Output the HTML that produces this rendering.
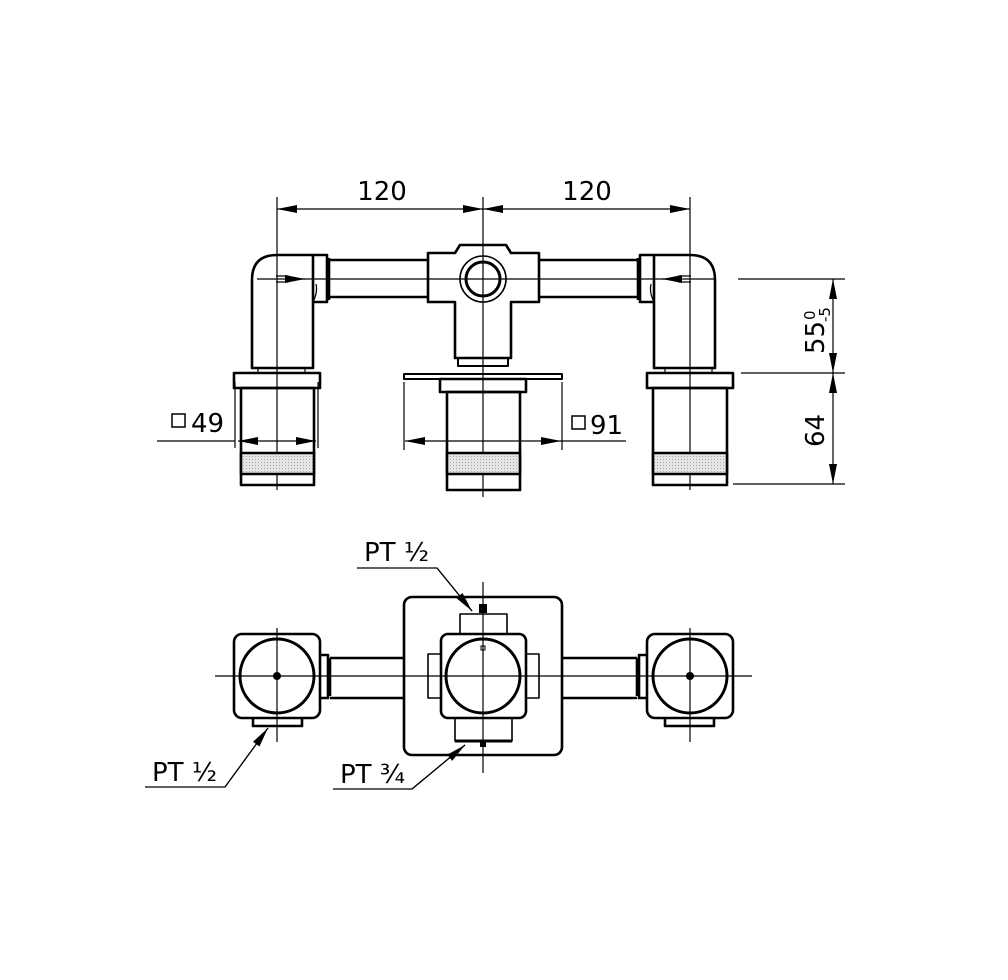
<!DOCTYPE html>
<html><head><style>body{margin:0;background:#fff}svg{display:block}text{font-family:"DejaVu Sans","Liberation Sans",sans-serif;fill:#000}</style></head>
<body>
<svg width="1008" height="980" viewBox="0 0 1008 980" xmlns="http://www.w3.org/2000/svg">
<defs>
<pattern id="kn" width="3" height="3" patternUnits="userSpaceOnUse"><rect width="3" height="3" fill="#e4e4e4"/><rect width="1" height="1" fill="#aaa"/></pattern>
<marker id="a" viewBox="0 0 20 8" refX="20" refY="4" markerWidth="20" markerHeight="8" markerUnits="userSpaceOnUse" orient="auto"><path d="M0,0L20,4L0,8z" fill="#000"/></marker>
</defs>
<g fill="none" stroke="#000" stroke-width="1.2">
<!-- top dims -->
<line x1="277" y1="197" x2="277" y2="250"/><line x1="483" y1="197" x2="483" y2="250"/><line x1="690" y1="197" x2="690" y2="250"/>
<line x1="380" y1="209" x2="277" y2="209" marker-end="url(#a)"/><line x1="380" y1="209" x2="483" y2="209" marker-end="url(#a)"/>
<line x1="586" y1="209" x2="483" y2="209" marker-end="url(#a)"/><line x1="586" y1="209" x2="690" y2="209" marker-end="url(#a)"/>
<!-- center lines -->
<line x1="277" y1="250" x2="277" y2="490"/><line x1="483" y1="250" x2="483" y2="497"/><line x1="690" y1="250" x2="690" y2="490"/>
<line x1="257" y1="279" x2="715" y2="279"/>
<!-- right dims -->
<line x1="738" y1="279" x2="845" y2="279"/><line x1="741" y1="373" x2="845" y2="373"/><line x1="733" y1="484" x2="845" y2="484"/>
<line x1="833" y1="326" x2="833" y2="279" marker-end="url(#a)"/><line x1="833" y1="326" x2="833" y2="373" marker-end="url(#a)"/>
<line x1="833" y1="428" x2="833" y2="373" marker-end="url(#a)"/><line x1="833" y1="428" x2="833" y2="484" marker-end="url(#a)"/>
<!-- □49 -->
<line x1="235" y1="382" x2="235" y2="448"/><line x1="318" y1="382" x2="318" y2="448"/>
<line x1="157" y1="441" x2="235" y2="441"/>
<line x1="277" y1="441" x2="238" y2="441" marker-end="url(#a)"/><line x1="277" y1="441" x2="316" y2="441" marker-end="url(#a)"/>
<!-- □91 -->
<line x1="404" y1="382" x2="404" y2="450"/><line x1="562" y1="382" x2="562" y2="450"/>
<line x1="483" y1="441" x2="405" y2="441" marker-end="url(#a)"/><line x1="483" y1="441" x2="561" y2="441" marker-end="url(#a)"/>
<line x1="561" y1="441" x2="626" y2="441"/>
</g>
<g fill="none" stroke="#000" stroke-width="2.6" stroke-linejoin="round">
<!-- left elbow -->
<path d="M252,368 V280 Q252,255 277,255 H313 V368 Z"/>
<path d="M313,255 H327 V302 H313"/><line x1="329" y1="258" x2="329" y2="300"/>
<path d="M313,302 Q318,292 316,284" stroke-width="1.2"/>
<!-- right elbow -->
<path d="M715,368 V280 Q715,255 690,255 H654 V368 Z"/>
<path d="M654,255 H640 V302 H654"/><line x1="638" y1="258" x2="638" y2="300"/>
<path d="M654,302 Q649,292 651,284" stroke-width="1.2"/>
<!-- pipes -->
<path d="M330,260 H428 M330,297 H428 M539,260 H637 M539,297 H637"/>
<!-- tee -->
<path d="M428,253 H455 L460,245 H506 L511,253 H539 V302 H511 V358 H455 V302 H428 Z"/>
<circle cx="483" cy="279" r="23" stroke-width="1.6"/><circle cx="483" cy="279" r="17" stroke-width="3"/>
<rect x="458" y="358" width="50" height="8" stroke-width="2"/>
<!-- left base -->
<rect x="234" y="373" width="86" height="15"/>
<rect x="241" y="388" width="73" height="97"/>
<rect x="241" y="453" width="73" height="21" fill="url(#kn)"/>
<line x1="258" y1="368" x2="258" y2="373" stroke-width="1.2"/><line x1="305" y1="368" x2="305" y2="373" stroke-width="1.2"/>
<!-- right base -->
<rect x="647" y="373" width="86" height="15"/>
<rect x="653" y="388" width="74" height="97"/>
<rect x="653" y="453" width="74" height="21" fill="url(#kn)"/>
<line x1="665" y1="368" x2="665" y2="373" stroke-width="1.2"/><line x1="712" y1="368" x2="712" y2="373" stroke-width="1.2"/>
<!-- center base -->
<rect x="404" y="374" width="158" height="5" stroke-width="2"/>
<rect x="440" y="379" width="86" height="13"/>
<rect x="447" y="392" width="73" height="98"/>
<rect x="447" y="453" width="73" height="21" fill="url(#kn)"/>
</g>
<!-- small arrows on elbows -->
<g stroke="#000" stroke-width="1.2" fill="none">
<path d="M276,276 H288 L291,279 L288,282 H276"/><line x1="291" y1="279" x2="305" y2="279" marker-end="url(#a)"/>
<path d="M691,276 H679 L676,279 L679,282 H691"/><line x1="676" y1="279" x2="662" y2="279" marker-end="url(#a)"/>
</g>
<!-- top text -->
<text x="382" y="200" font-size="26" text-anchor="middle">120</text>
<text x="587" y="200" font-size="26" text-anchor="middle">120</text>
<rect x="172" y="414" width="13" height="13" fill="none" stroke="#000" stroke-width="1.5"/>
<text x="191" y="432" font-size="26">49</text>
<rect x="572" y="416" width="13" height="13" fill="none" stroke="#000" stroke-width="1.5"/>
<text x="590" y="434" font-size="26">91</text>
<g transform="translate(824,354) rotate(-90)"><text x="0" y="0" font-size="26">55</text><text x="34" y="-9" font-size="15">0</text><text x="32" y="6" font-size="15">-5</text></g>
<text transform="translate(824,447) rotate(-90)" font-size="26">64</text>

<!-- bottom view -->
<g fill="none" stroke="#000" stroke-width="1.2">
<line x1="215" y1="676" x2="752" y2="676"/>
<line x1="277" y1="628" x2="277" y2="742"/><line x1="690" y1="628" x2="690" y2="742"/><line x1="483" y1="582" x2="483" y2="773"/>
<polyline points="357,568 437,568 472,611"/><line x1="437" y1="568" x2="472" y2="611" marker-end="url(#a)"/>
<polyline points="145,787 225,787 268,728"/><line x1="225" y1="787" x2="268" y2="728" marker-end="url(#a)"/>
<polyline points="333,789 412,789 465,745"/><line x1="412" y1="789" x2="465" y2="745" marker-end="url(#a)"/>
</g>
<g fill="none" stroke="#000" stroke-width="2.6" stroke-linejoin="round">
<rect x="234" y="634" width="86" height="84" rx="8"/>
<circle cx="277" cy="676" r="37" stroke-width="3"/>
<path d="M320,655 H328 V698 H320"/><line x1="330" y1="658" x2="330" y2="696"/>
<path d="M253,718 V726 H302 V718"/>
<rect x="647" y="634" width="86" height="84" rx="8"/>
<circle cx="690" cy="676" r="37" stroke-width="3"/>
<path d="M647,655 H639 V698 H647"/><line x1="637" y1="658" x2="637" y2="696"/>
<path d="M665,718 V726 H714 V718"/>
<path d="M330,658 H404 M330,698 H404 M562,658 H637 M562,698 H637"/>
<rect x="404" y="597" width="158" height="158" rx="8"/>
<rect x="441" y="634" width="85" height="84" rx="7"/>
<circle cx="483" cy="676" r="37" stroke-width="3"/>
<path d="M441,654 H428 V698 H441 M526,654 H539 V698 H526" stroke-width="1.6"/>
<path d="M460,634 V614 H507 V634" stroke-width="1.6"/>
<path d="M455,718 V741 H512 V718" stroke-width="1.6"/>
<line x1="455" y1="741" x2="512" y2="741" stroke-width="3"/>
</g>
<rect x="479" y="604" width="8" height="9" fill="#000"/>
<rect x="480" y="741" width="6" height="6" fill="#000"/>
<rect x="481" y="646" width="4" height="4" fill="none" stroke="#000" stroke-width="1"/>
<circle cx="277" cy="676" r="4" fill="#000"/><circle cx="690" cy="676" r="4" fill="#000"/>
<text x="364" y="561" font-size="26">PT ½</text>
<text x="152" y="781" font-size="26">PT ½</text>
<text x="340" y="783" font-size="26">PT ¾</text>
</svg>
</body></html>
